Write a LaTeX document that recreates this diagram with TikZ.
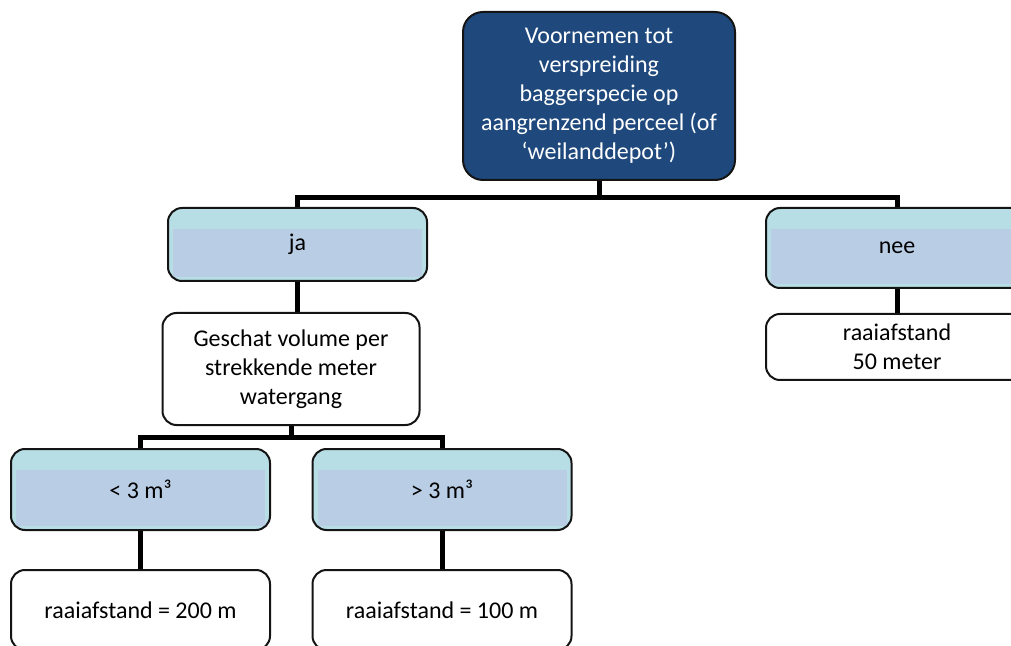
\documentclass[tikz,border=0pt]{standalone}
\usepackage{fontspec}
\setmainfont{Carlito}
\usepackage{tikz}
\usetikzlibrary{positioning, calc}
\definecolor{mynavy}{RGB}{31,73,125}
\definecolor{myteal}{RGB}{183,222,229}
\definecolor{myband}{RGB}{185,205,228}
\definecolor{mydark}{RGB}{20,20,20}
\tikzset{
  topbox/.style={rectangle, draw=mydark, fill=mynavy, text=white,
    minimum width=136pt, minimum height=84pt, align=center,
    rounded corners=10pt, line width=1pt, inner sep=2pt},
  headbox/.style={rectangle, draw=mydark, fill=myteal,
    minimum width=129.5pt, minimum height=36.5pt, align=center,
    rounded corners=7pt, line width=1pt,
    path picture={\fill[myband, sharp corners]
      ([xshift=2.5pt,yshift=-10.5pt]path picture bounding box.north west) rectangle
      ([xshift=-2.5pt,yshift=2pt]path picture bounding box.south east);}},
  plainbox/.style={rectangle, draw=mydark, fill=white,
    minimum width=129pt, minimum height=40pt, align=center,
    rounded corners=7pt, line width=1pt},
  conn/.style={line width=2.5pt, color=black}
}

\begin{document}
\begin{tikzpicture}[x=0.5pt, y=-0.5pt, font=\fontsize{12}{14.5}\selectfont]
  \useasboundingbox (0,0) rectangle (1011,646);
  \clip (0,0) rectangle (1011,646);

  % Boxes
  \node[topbox] (plan) at (599,96) {Voornemen tot\\verspreiding\\baggerspecie op\\aangrenzend perceel (of\\‘weilanddepot’)};
  \node[headbox] (ja) at (297.5,244.5) {ja};
  \node[headbox, minimum width=131pt, minimum height=40pt] (nee) at (897,248) {nee};
  \node[plainbox, minimum width=128.5pt, minimum height=56pt] (volume) at (291,369) {Geschat volume per\\strekkende meter\\watergang};
  \node[plainbox, minimum width=131pt, minimum height=33pt] (dist50) at (897,347) {raaiafstand\\50 meter};
  \node[headbox, minimum height=40.5pt] (small) at (140.5,489.5) {< 3 m³};
  \node[headbox, minimum height=40.5pt] (large) at (442,489.5) {> 3 m³};
  \node[plainbox, minimum width=129.5pt] (dist200) at (140.5,610) {raaiafstand = 200 m};
  \node[plainbox, minimum width=129.5pt] (dist100) at (442,610) {raaiafstand = 100 m};

  % Connectors
  \coordinate (bar1) at (0,198);
  \coordinate (bar2) at (0,437);
  \draw[conn] (plan.south) -- (plan.south |- bar1);
  \draw[conn] (ja.north) |- (nee.north |- bar1) -- (nee.north);
  \draw[conn] (ja.south) -- (ja.south |- volume.north);
  \draw[conn] (nee.south) -- (nee.south |- dist50.north);
  \draw[conn] (volume.south) -- (volume.south |- bar2);
  \draw[conn] (small.north) |- (large.north |- bar2) -- (large.north);
  \draw[conn] (small.south) -- (dist200.north);
  \draw[conn] (large.south) -- (dist100.north);
\end{tikzpicture}
\end{document}
